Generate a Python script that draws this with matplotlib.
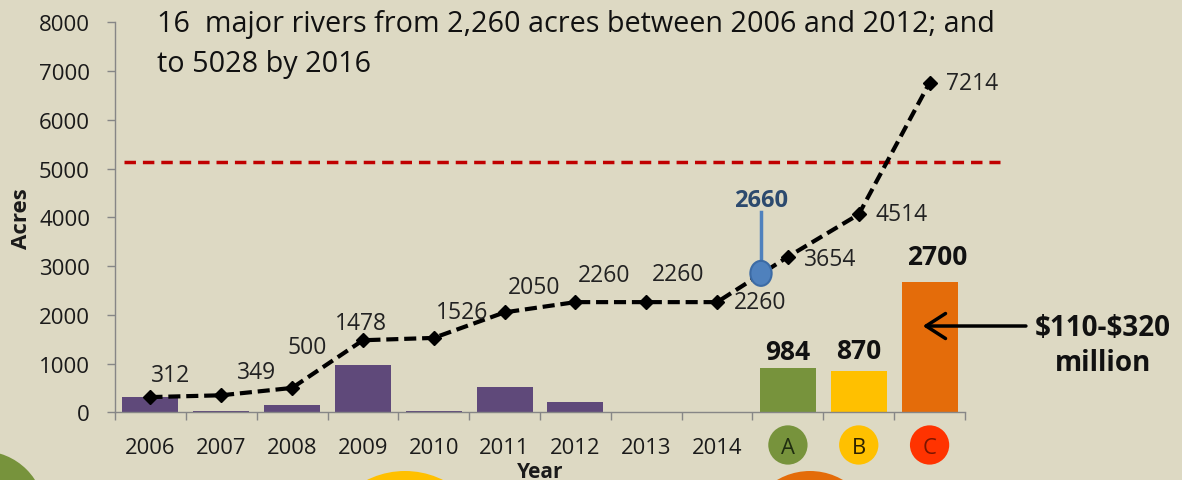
"""Acres chart: annual purple bars, scenario bars A-C and cumulative dashed line."""

import matplotlib

matplotlib.use("Agg", force=True)
import matplotlib.pyplot as plt
from matplotlib.patches import Circle, Ellipse

# ---- data ----
years = ["2006", "2007", "2008", "2009", "2010", "2011", "2012", "2013", "2014"]
scenarios = ["A", "B", "C"]
annual_acres = [312, 25, 145, 965, 25, 512, 205, 0, 0]
scenario_acres = [900, 852, 2674]
scenario_labels = ["984", "870", "2700"]
cumulative_acres = [312, 349, 500, 1478, 1526, 2050, 2260, 2260, 2260, 3190, 4060, 6760]
cumulative_labels = ["312", "349", "500", "1478", "1526", "2050", "2260", "2260",
                     "2260", "3654", "4514", "7214"]
target_acres = 5140
pin_x, pin_base, pin_top, pin_label = 8.62, 2850, 4100, "2660"
cost_label = "\\$110-\\$320\nmillion"
title_lines = ["16  major rivers from 2,260 acres between 2006 and 2012; and",
               "to 5028 by 2016"]

# ---- styling ----
BG = "#DDD9C3"
PURPLE = "#5F497A"
SCEN_COLORS = ["#77933C", "#FFC000", "#E46C0A"]
BADGE_COLORS = ["#77933C", "#FFC000", "#FF3300"]
BADGE_TEXT = ["#1f2d10", "#2b2000", "#7a1500"]
AXIS_GREY = "#868686"
TEXT = "#1a1a1a"

plt.rcParams["font.family"] = ["Open Sans", "DejaVu Sans"]

# label offsets in pixels (dx, dy up)
line_label_offsets = [(20, 22), (35, 23), (15, 41), (-2, 17), (28, 26), (30, 25),
                      (29, 27), (32, 28), (43, 0), (42, -2), (43, 0), (42, 0)]
scen_label_offsets = [(0, 17), (0, 20), (8, 25)]

fig = plt.figure(figsize=(11.82, 4.81), dpi=100)
fig.patch.set_facecolor(BG)

# background layer in pixel coordinates (title + decorative circles)
bg = fig.add_axes([0, 0, 1, 1], zorder=0)
bg.set_xlim(0, 1182)
bg.set_ylim(481, 0)
bg.axis("off")
for (cx, cy, r), col in zip([(-18, 515, 63), (405, 557, 85), (810, 537, 65)],
                            ["#77933C", "#FFC000", "#E46C0A"]):
    bg.add_patch(Circle((cx, cy), r, color=col, lw=0))
bg.text(157, 32, title_lines[0], fontsize=20.7, color="#111111", va="baseline")
bg.text(157, 72, title_lines[1], fontsize=20.7, color="#111111", va="baseline")

ax = fig.add_axes([115 / 1182, 67.7 / 481, 850 / 1182, 390 / 481], zorder=1)
ax.patch.set_visible(False)

n_years = len(years)
x_years = list(range(n_years))
x_scen = list(range(n_years, n_years + len(scenarios)))
x_all = x_years + x_scen

ax.bar(x_years, annual_acres, width=0.79, color=PURPLE, zorder=2)
ax.bar(x_scen, scenario_acres, width=0.79, color=SCEN_COLORS, zorder=2)

for x, v, lab, (dx, dy) in zip(x_scen, scenario_acres, scenario_labels, scen_label_offsets):
    ax.annotate(lab, (x, v), xytext=(dx, dy), textcoords="offset pixels",
                ha="center", va="center", fontsize=19, fontweight="bold", color="#111111")

# target line
ax.plot([-0.37, 12.0], [target_acres, target_acres], color="#C00000", lw=2.5,
        ls=(0, (3.3, 2.0)), clip_on=False, zorder=2)

# cumulative line
ax.plot(x_all, cumulative_acres, color="black", lw=3, ls=(0, (2.9, 1.4)),
        marker="D", ms=7, zorder=3)
for x, v, lab, (dx, dy) in zip(x_all, cumulative_acres, cumulative_labels, line_label_offsets):
    ax.annotate(lab, (x, v), xytext=(dx, dy), textcoords="offset pixels",
                ha="center", va="center", fontsize=16.5, color="#222222",
                annotation_clip=False)

# blue pin
ax.plot([pin_x, pin_x], [pin_base + 250, pin_top], color="#4F81BD", lw=2.5, zorder=4)
ax.add_patch(Ellipse((pin_x, pin_base), 0.3, 513, facecolor="#4F81BD",
                     edgecolor="#3C6BA5", lw=1.5, zorder=5))
ax.annotate(pin_label, (pin_x, pin_top), xytext=(0, 12), textcoords="offset pixels",
            ha="center", va="center", fontsize=17, fontweight="bold", color="#2C4A6E")

# cost arrow + text
ax.annotate("", xy=(10.905, 1770), xytext=(12.36, 1770), annotation_clip=False,
            arrowprops=dict(arrowstyle="->,head_length=0.7,head_width=0.45",
                            lw=2.5, color="black", mutation_scale=20,
                            shrinkA=0, shrinkB=0))
ax.text(13.45, 1380, cost_label, ha="center", va="center", fontsize=20,
        fontweight="bold", color="#111111", linespacing=1.25, clip_on=False)

# badges behind A/B/C tick labels
ax.scatter(x_scen, [-0.0838] * len(x_scen), s=800, c=BADGE_COLORS,
           transform=ax.get_xaxis_transform(), clip_on=False, zorder=1, lw=0)

ax.set_xlim(-0.5, 11.5)
ax.set_ylim(0, 8000)
ax.set_yticks(range(0, 8001, 1000))
ax.set_xticks(x_all)
ax.set_xticklabels(years + scenarios)
ax.set_xticks([i - 0.5 for i in range(len(x_all) + 1)], minor=True)
ax.tick_params(axis="x", which="major", length=0, pad=17.5, labelsize=15.8, labelcolor=TEXT)
ax.tick_params(axis="x", which="minor", length=6, width=1, color=AXIS_GREY, direction="out")
ax.tick_params(axis="y", length=6, width=1, color=AXIS_GREY, pad=12, labelsize=16,
               labelcolor=TEXT)
for lbl, col in zip(ax.get_xticklabels()[n_years:], BADGE_TEXT):
    lbl.set_color(col)

for side in ("top", "right"):
    ax.spines[side].set_visible(False)
for side in ("left", "bottom"):
    ax.spines[side].set_color(AXIS_GREY)
    ax.spines[side].set_linewidth(1)

ax.set_ylabel("Acres", fontsize=16, fontweight="bold", color=TEXT)
ax.yaxis.set_label_coords(-0.0976, 0.5)
ax.set_xlabel("Year", fontsize=15, fontweight="bold", color=TEXT)
ax.xaxis.set_label_coords(0.5, -0.124)

fig.savefig("out.png", dpi=100, facecolor=BG)
